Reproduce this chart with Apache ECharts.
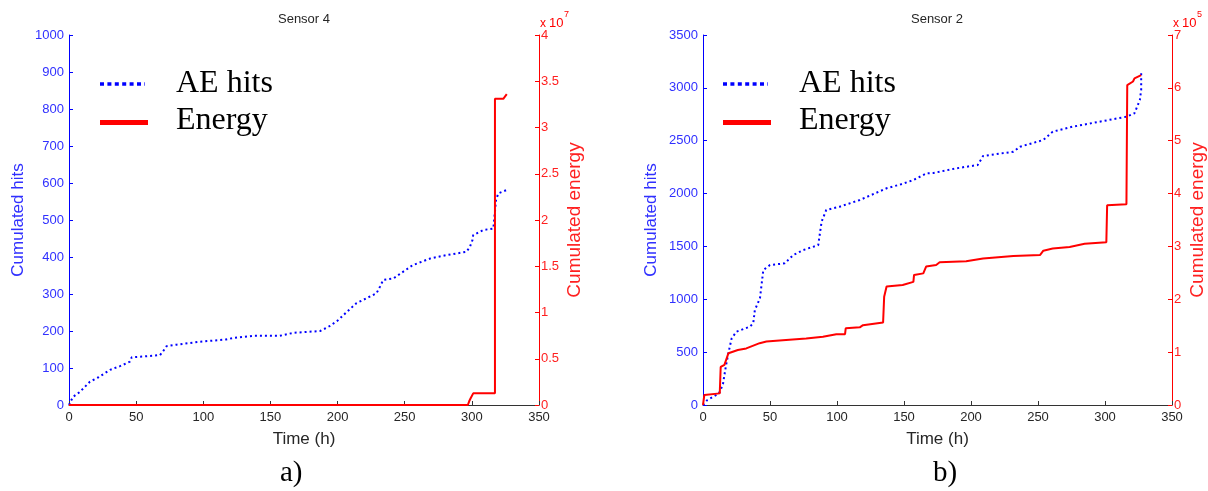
<!DOCTYPE html>
<html>
<head>
<meta charset="utf-8">
<script src="https://cdn.jsdelivr.net/npm/echarts@6/dist/echarts.min.js"></script>
<style>
html,body{margin:0;padding:0;background:#fff;}
#chart{width:1208px;height:491px;}
</style>
</head>
<body>
<div id="chart"></div>
<script>
// Sensor 4: cumulated AE hits [time h, hits]
const sensor4Hits = [[0,0],[1,8],[3,22],[8,35],[15.6,63],[22,75],[30.5,95],[38,105],[45.4,117],[46.7,129],[55,131],[67.8,135],[70,145],[72.7,159],[80,163],[97.5,171],[117,177],[122,181],[137,187],[157,187],[167,195],[187,200],[194,213],[200,228],[207,252],[214,275],[229,302],[231.6,320],[234,338],[241.5,342],[256,378],[269,396],[281,405],[296,414],[298.6,428],[300.5,446],[301,459],[308.5,473],[316,477],[318,554],[319.7,572],[326,581]];
// Sensor 4: cumulated energy [time h, energy x 10^7]
const sensor4Energy = [[0,0],[297,0],[298,0.04],[299,0.07],[300,0.07],[301,0.126],[317.2,0.126],[317.2,3.31],[323.4,3.31],[326,3.36]];
// Sensor 2: cumulated AE hits
const sensor2Hits = [[0,0],[3.2,47],[10,95],[12.7,126],[15,205],[17,362],[18.9,489],[21.4,631],[25,694],[35,741],[37.5,773],[38.7,899],[42.5,1009],[45,1277],[50,1324],[61,1340],[67.4,1419],[74.9,1466],[86,1513],[87,1530],[88.5,1734],[92,1845],[102,1876],[117,1939],[137,2050],[147,2085],[157,2128],[167,2192],[172,2195],[189,2239],[205,2270],[209,2355],[231.6,2396],[236.6,2443],[254,2507],[261,2586],[276,2633],[296,2680],[316,2727],[322,2760],[326,2885],[327,2980],[327,3138]];
// Sensor 2: cumulated energy [time h, energy x 10^5]
const sensor2Energy = [[0,0],[1,0.19],[12.5,0.22],[13.2,0.72],[16,0.76],[19,0.98],[26,1.04],[32.3,1.07],[42.3,1.17],[47.3,1.2],[62,1.23],[77,1.26],[89.5,1.29],[99.5,1.34],[106,1.34],[106.5,1.45],[117,1.47],[119.4,1.51],[134.4,1.56],[135.2,2.05],[137,2.24],[149,2.27],[157,2.33],[157.5,2.46],[164.4,2.49],[166.5,2.62],[174,2.65],[176.6,2.7],[196.4,2.72],[209,2.77],[231.6,2.82],[251.6,2.84],[254,2.92],[261,2.96],[273.6,2.99],[284.8,3.05],[301,3.08],[301.6,3.78],[316,3.8],[316.6,6.05],[320.9,6.12],[322,6.18],[327,6.24]];

const titles = ['Sensor 4', 'Sensor 2'];
const panelLabels = ['a)', 'b)'];
const legendNames = ['AE hits', 'Energy'];
const energyExp = ['7', '5'];

const BLUE = '#0000ff', RED = '#ff0000', DARK = '#262626';
const SANS = '"Liberation Sans", Arial, sans-serif';
const SERIF = '"Liberation Serif", "Times New Roman", serif';

const grids = [
  {left: 69, width: 470, top: 35, height: 370},
  {left: 703, width: 469, top: 35, height: 370}
];
const plain = v => String(v);

function xAxis(g){
  return {
    type:'value', gridIndex:g, min:0, max:350, interval:50,
    axisLine:{show:true, lineStyle:{color:'#333', width:1}},
    axisTick:{show:true, inside:true, length:4, lineStyle:{color:'#333'}},
    axisLabel:{color:DARK, fontSize:13, fontFamily:SANS, margin:6, formatter:plain},
    splitLine:{show:false},
    name:'Time (h)', nameLocation:'middle', nameGap:26,
    nameTextStyle:{color:DARK, fontSize:17, fontFamily:SANS}
  };
}
function yLeft(g, max, interval){
  return {
    type:'value', gridIndex:g, position:'left', min:0, max:max, interval:interval,
    axisLine:{show:true, lineStyle:{color:BLUE, width:1}},
    axisTick:{show:true, inside:true, length:4, lineStyle:{color:BLUE}},
    axisLabel:{color:'#3030ff', fontSize:13, fontFamily:SANS, margin:5, formatter:plain},
    splitLine:{show:false},
    name:'Cumulated hits', nameLocation:'middle', nameRotate:90, nameGap: g===0 ? 42 : 43,
    nameTextStyle:{color:'#3030ff', fontSize:17, fontFamily:SANS}
  };
}
function yRight(g, max, interval){
  return {
    type:'value', gridIndex:g, position:'right', min:0, max:max, interval:interval,
    axisLine:{show:true, lineStyle:{color:RED, width:1}},
    axisTick:{show:true, inside:true, length:4, lineStyle:{color:RED}},
    axisLabel:{color:'#ff2020', fontSize:13, fontFamily:SANS, margin:2, formatter:plain},
    splitLine:{show:false},
    name:'Cumulated energy', nameLocation:'middle', nameRotate:90, nameGap: g===0 ? 26 : 16,
    nameTextStyle:{color:'#ff2020', fontSize:19, fontFamily:SANS}
  };
}

function hitsSeries(data, xi, yi){
  return {type:'line', xAxisIndex:xi, yAxisIndex:yi, data:data, showSymbol:false, symbol:'none',
    lineStyle:{color:BLUE, width:2, type:[2,3]}, z:2, animation:false};
}
function energySeries(data, xi, yi){
  return {type:'line', xAxisIndex:xi, yAxisIndex:yi, data:data, showSymbol:false, symbol:'none',
    lineStyle:{color:RED, width:2}, z:3, animation:false};
}

const graphics = [];
const panelCenters = [304, 937];
const panelLabelX = [280, 933];
const legendX = [100, 723];
grids.forEach((gr, i) => {
  graphics.push({type:'text', x: panelCenters[i], y: 19, style:{text:titles[i], fill:DARK, font:'13px '+SANS, textAlign:'center', textVerticalAlign:'middle'}});
  graphics.push({type:'text', x: panelLabelX[i], y: 473, style:{text:panelLabels[i], fill:'#000', font:'29px '+SERIF, textAlign:'left', textVerticalAlign:'middle'}});
  const ax = gr.left + gr.width;
  graphics.push({type:'text', x: ax + 1, y: 24, style:{text:'x', fill:RED, font:'12px '+SANS, textAlign:'left', textVerticalAlign:'middle'}});
  graphics.push({type:'text', x: ax + 10, y: 23, style:{text:'10', fill:RED, font:'13px '+SANS, textAlign:'left', textVerticalAlign:'middle'}});
  graphics.push({type:'text', x: ax + 25, y: 15, style:{text:energyExp[i], fill:RED, font:'9px '+SANS, textAlign:'left', textVerticalAlign:'middle'}});
  const lx = legendX[i];
  graphics.push({type:'line', shape:{x1:lx, y1:84, x2:lx+45, y2:84}, style:{stroke:BLUE, lineWidth:3.5, lineDash:[4,3.4]}});
  graphics.push({type:'line', shape:{x1:lx, y1:122.5, x2:lx+48, y2:122.5}, style:{stroke:RED, lineWidth:5}});
  graphics.push({type:'text', x: lx + 76, y: 84, style:{text:legendNames[0], fill:'#000', font:'32px '+SERIF, textAlign:'left', textVerticalAlign:'middle'}});
  graphics.push({type:'text', x: lx + 76, y: 121, style:{text:legendNames[1], fill:'#000', font:'32px '+SERIF, textAlign:'left', textVerticalAlign:'middle'}});
});

const chart = echarts.init(document.getElementById('chart'), null, {renderer:'canvas'});
chart.setOption({
  backgroundColor:'#fff',
  animation:false,
  grid: grids,
  xAxis: [xAxis(0), xAxis(1)],
  yAxis: [yLeft(0,1000,100), yRight(0,4,0.5), yLeft(1,3500,500), yRight(1,7,1)],
  series: [
    hitsSeries(sensor4Hits, 0, 0),
    energySeries(sensor4Energy, 0, 1),
    hitsSeries(sensor2Hits, 1, 2),
    energySeries(sensor2Energy, 1, 3)
  ],
  graphic: graphics
});
</script>
</body>
</html>
